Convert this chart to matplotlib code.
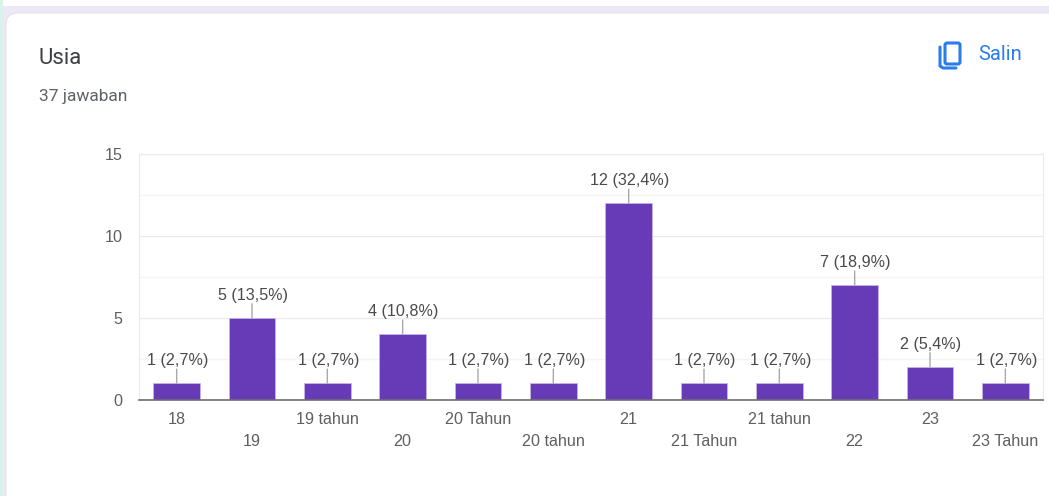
#!/usr/bin/env python
import matplotlib
matplotlib.use('Agg')
import matplotlib.pyplot as plt
from matplotlib.patches import FancyBboxPatch, Rectangle
import numpy as np

categories = ['18', '19', '19 tahun', '20', '20 Tahun', '20 tahun', '21',
              '21 Tahun', '21 tahun', '22', '23', '23 Tahun']
values = [1, 5, 1, 4, 1, 1, 12, 1, 1, 7, 2, 1]
value_labels = ['1 (2,7%)', '5 (13,5%)', '1 (2,7%)', '4 (10,8%)', '1 (2,7%)', '1 (2,7%)',
                '12 (32,4%)', '1 (2,7%)', '1 (2,7%)', '7 (18,9%)', '2 (5,4%)', '1 (2,7%)']
major_ticks = [0, 5, 10, 15]
minor_ticks = [2.5, 7.5, 12.5]

W, H = 1049, 496
fig = plt.figure(figsize=(W / 100, H / 100), dpi=100, facecolor='white')

# page background and card, in pixel coords
bg = fig.add_axes([0, 0, 1, 1])
bg.set_xlim(0, W)
bg.set_ylim(H, 0)
bg.axis('off')
bg.add_patch(Rectangle((0, 0), W, H, fc='white', ec='none'))
bg.add_patch(Rectangle((0, 0), 3, H, fc='#d9f3ec', ec='none'))
bg.add_patch(Rectangle((3, 6), W, H, fc='#ece8f6', ec='none'))
bg.add_patch(FancyBboxPatch((18, 25), W + 40, H + 40, boxstyle='round,pad=12,rounding_size=12',
                            fc='white', ec='#dfdce6', lw=0.6))
bg.text(39, 58, 'Usia', family='Roboto', fontsize=16, color='#3c4043', ha='left', va='center')
bg.text(39, 96.5, '37 jawaban', family='Roboto', fontsize=12.5, color='#5f6368', ha='left', va='center')
bg.text(978, 54.5, 'Salin', family='Roboto', fontsize=14.5, color='#2b7de9', ha='left', va='center')

# copy icon
bg.add_patch(FancyBboxPatch((945, 43), 15, 21, boxstyle='round,pad=0,rounding_size=2',
                            fc='none', ec='#2b7de9', lw=2.2))
bg.plot([940, 940, 943, 956], [47, 66, 68, 68], color='#2b7de9', lw=2.2, solid_capstyle='round')

ax = fig.add_axes([139 / W, (H - 399.5) / H, (1043 - 139) / W, (399.5 - 154) / H])
ax.patch.set_alpha(0)

x = np.arange(len(categories))
ax.bar(x, values, width=0.62, color='#673ab7', edgecolor='#c9b8e8', linewidth=0.5, zorder=3)

ax.set_xlim(-0.5, len(categories) - 0.5)
ax.set_ylim(0, 15)
ax.set_yticks(major_ticks)
ax.set_yticks(minor_ticks, minor=True)
ax.grid(axis='y', which='major', color='#ebebeb', lw=1, zorder=0)
ax.grid(axis='y', which='minor', color='#f4f4f4', lw=1, zorder=0)
ax.tick_params(axis='y', which='both', length=0)
ax.tick_params(axis='y', which='major', labelsize=11.6, labelcolor='#5f5f5f', pad=12)
ax.tick_params(axis='x', length=0, labelbottom=False)
for label in ax.get_yticklabels():
    label.set_family('Liberation Sans')

for side in ['top', 'right', 'left']:
    ax.spines[side].set_color('#ebebeb')
ax.spines['bottom'].set_color('#6e6e6e')
ax.spines['bottom'].set_linewidth(1.2)
ax.spines['bottom'].set_zorder(4)

for i, (v, lab) in enumerate(zip(values, value_labels)):
    # leader line on its own, so it stays vertical above the bar
    ax.annotate('', (i, v), xytext=(0, 14), textcoords='offset pixels', zorder=5,
                arrowprops=dict(arrowstyle='-', color='#a8a8a8', lw=1, shrinkA=0, shrinkB=0))
    ax.annotate(lab, (i, v), xytext=(1, 15), textcoords='offset pixels', ha='center', va='bottom',
                family='Liberation Sans', fontsize=11.6, color='#4a4a4a', zorder=5)

# staggered category labels, alternating rows
for i, cat in enumerate(categories):
    offset = -20.5 if i % 2 == 0 else -42
    ax.annotate(cat, (i, 0), xytext=(0, offset), textcoords='offset pixels', ha='center', va='center',
                family='Liberation Sans', fontsize=11.6, color='#5f5f5f', annotation_clip=False)

fig.savefig('out.png', dpi=100)
